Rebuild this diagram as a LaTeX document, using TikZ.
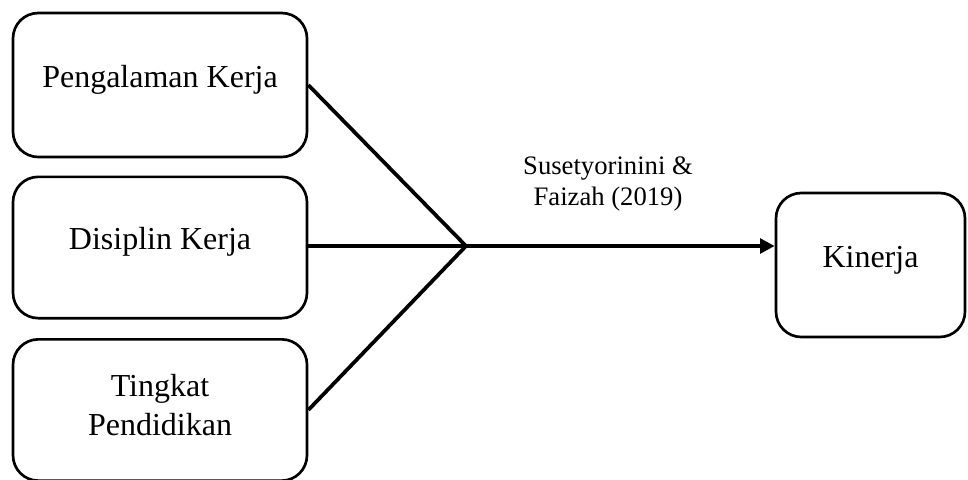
\documentclass[tikz,border=0pt]{standalone}
\usepackage{fontspec}
\setmainfont{Liberation Serif}
\usetikzlibrary{arrows.meta}

\begin{document}
\begin{tikzpicture}[x=0.75pt,y=0.75pt,yscale=-1,xscale=1,
  varbox/.style={draw, line width=2pt, rounded corners=19pt, align=center,
    font=\fontsize{24}{29}\selectfont},
  oneline/.style={text height=0.68em, text depth=0.35em},
  link/.style={line width=2.8pt}]
\useasboundingbox (0,0) rectangle (968,479);

% Rounded Rect
\node[varbox, oneline, minimum width=220.5pt, minimum height=108pt] (pengalaman) at (160,85) {Pengalaman Kerja};
% Rounded Rect
\node[varbox, oneline, minimum width=220.5pt, minimum height=106pt] (disiplin) at (160,247.5) {Disiplin Kerja};
% Rounded Rect
\node[varbox, text depth=0.75em, minimum width=220.5pt, minimum height=106pt] (pendidikan) at (160,410) {Tingkat\\Pendidikan};
% Rounded Rect
\node[varbox, oneline, minimum width=141.75pt, minimum height=108pt] (kinerja) at (870.5,265) {Kinerja};

%Straight Lines
\coordinate (jct) at (466,246);
\draw[link] (pengalaman.east) -- (jct);
\draw[link] (disiplin.east |- jct) -- (jct);
\draw[link] (pendidikan.east) -- (jct);
\draw[link, -{Triangle[length=11pt,width=11pt]}] (jct) -- (jct -| kinerja.west);

% Text Node
\node[align=center, font=\fontsize{20}{23}\selectfont] (sumber) at (608,184) {Susetyorinini \&\\Faizah (2019)};

\end{tikzpicture}
\end{document}
